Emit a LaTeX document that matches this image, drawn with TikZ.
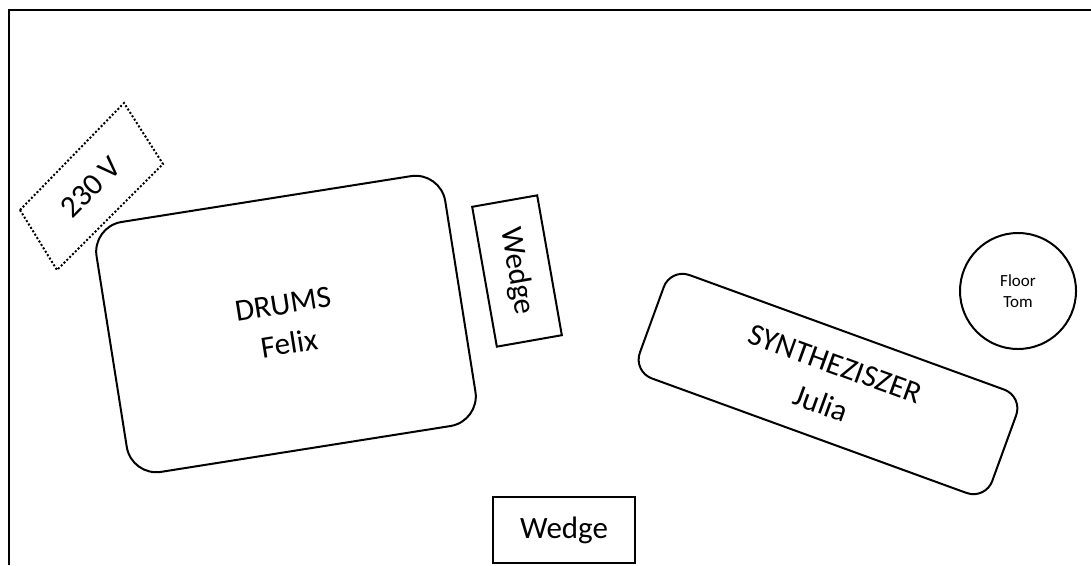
\documentclass[tikz,border=0pt]{standalone}
\usepackage{fontspec}
\setmainfont{Carlito}
\usepackage{tikz}

\begin{document}
\begin{tikzpicture}
[x=1pt, y=-1pt,
every node/.style={draw, line width=2pt, align=center, inner sep=0pt},
big/.style={font=\fontsize{31}{40}\selectfont},
small/.style={font=\fontsize{17}{21}\selectfont},
riser/.style={big, rounded corners=30pt},
wedgebox/.style={big, minimum width=142pt, minimum height=66pt}]

\useasboundingbox (0,0) rectangle (1091,565);
% stage outline
\draw[line width=2.7pt] (9,565) -- (9,10) -- (1091,10);

\node[riser, minimum width=353pt, minimum height=253pt, rotate=9] (drums) at (286,324) {DRUMS\\Felix};
% power outlet
\draw[line width=2pt, dash pattern=on 2pt off 2pt] (20,210) -- (124,103) -- (163,164) -- (57,270) -- cycle;
\node[big, draw=none, rotate=45] (power) at (91,187) {230 V};
\node[wedgebox, rotate=-80] (wedgeside) at (517,271) {Wedge};
\node[wedgebox] (wedgefront) at (564,530) {Wedge};
\node[riser, rounded corners=20pt, minimum width=375pt, minimum height=110pt, rotate=-20, font=\fontsize{31}{42}\selectfont] (synth) at (828,384) {SYNTHEZISZER\\Julia};
\node[small, circle, minimum size=116pt] (floortom) at (1018,291) {Floor\\Tom};
\end{tikzpicture}
\end{document}
